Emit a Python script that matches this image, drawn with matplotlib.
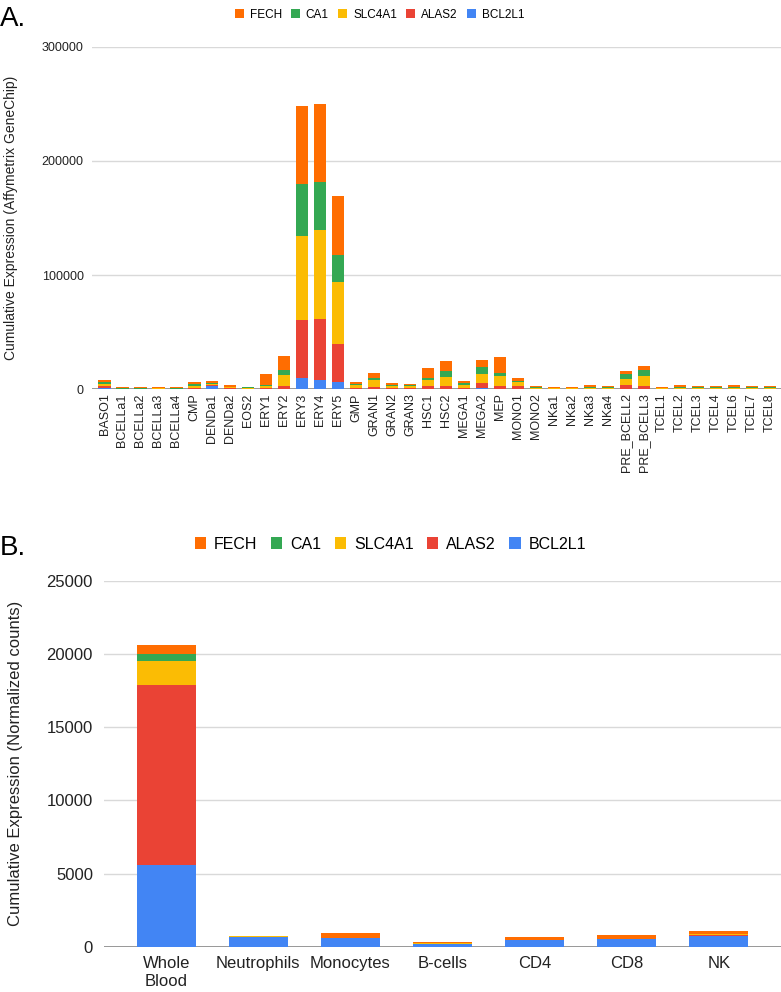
import matplotlib
matplotlib.use("Agg")
import matplotlib.pyplot as plt
import numpy as np
from matplotlib.patches import Patch

plt.rcParams["font.family"] = ["Liberation Sans", "DejaVu Sans"]

# Gene colours (Google Sheets palette)
genes = ["BCL2L1", "ALAS2", "SLC4A1", "CA1", "FECH"]
colors = {
    "BCL2L1": "#4285F4",
    "ALAS2": "#EA4335",
    "SLC4A1": "#FBBC04",
    "CA1": "#34A853",
    "FECH": "#FF6D01",
}

# Panel A: Affymetrix GeneChip, cumulative expression per cell population
cells_a = [
    "BASO1", "BCELLa1", "BCELLa2", "BCELLa3", "BCELLa4", "CMP", "DENDa1",
    "DENDa2", "EOS2", "ERY1", "ERY2", "ERY3", "ERY4", "ERY5", "GMP", "GRAN1",
    "GRAN2", "GRAN3", "HSC1", "HSC2", "MEGA1", "MEGA2", "MEP", "MONO1",
    "MONO2", "NKa1", "NKa2", "NKa3", "NKa4", "PRE_BCELL2", "PRE_BCELL3",
    "TCEL1", "TCEL2", "TCEL3", "TCEL4", "TCEL6", "TCEL7", "TCEL8",
]
bcl2l1_a = [1500, 200, 200, 200, 200, 600, 2500, 300, 100, 300, 600, 9900,
            7900, 6100, 300, 300, 200, 200, 500, 500, 300, 1100, 300, 300,
            200, 100, 100, 200, 200, 300, 300, 100, 200, 200, 200, 200, 200, 200]
alas2_a = [1300, 200, 200, 300, 200, 900, 800, 500, 200, 1200, 2300, 50500,
           53600, 33300, 400, 1700, 800, 700, 2300, 2600, 1000, 4400, 2600,
           2300, 300, 200, 300, 400, 300, 3500, 2900, 300, 400, 300, 300,
           400, 300, 300]
slc4a1_a = [2000, 200, 200, 200, 200, 1700, 1200, 900, 800, 1500, 9400,
            73600, 78200, 54200, 2900, 5800, 1700, 1800, 5200, 7900, 2000,
            8100, 8800, 3500, 800, 400, 500, 900, 900, 5500, 8700, 500, 900,
            800, 800, 900, 800, 800]
ca1_a = [1500, 200, 200, 200, 200, 1300, 1300, 700, 600, 1000, 4300, 45600,
         41800, 23700, 1200, 2000, 800, 800, 2000, 4700, 2000, 5700, 2300,
         1500, 700, 400, 400, 800, 800, 4400, 4700, 500, 800, 700, 700, 800,
         700, 700]
fech_a = [1700, 800, 800, 1000, 900, 1800, 1500, 1100, 300, 9400, 12800,
          68000, 68500, 52100, 1900, 4200, 1800, 1200, 9000, 9100, 2000,
          6100, 14500, 2000, 900, 500, 800, 1200, 700, 2600, 4000, 600,
          1200, 900, 900, 1200, 900, 900]

# Panel B: RNA-seq, normalized counts
cells_b = ["Whole\nBlood", "Neutrophils", "Monocytes", "B-cells", "CD4", "CD8", "NK"]
bcl2l1_b = [5600, 685, 570, 205, 435, 505, 760]
alas2_b = [12300, 10, 15, 10, 15, 15, 20]
slc4a1_b = [1600, 10, 15, 10, 15, 15, 100]
ca1_b = [500, 45, 15, 10, 15, 15, 20]
fech_b = [600, 10, 320, 105, 185, 250, 150]

data_a = dict(zip(genes, [bcl2l1_a, alas2_a, slc4a1_a, ca1_a, fech_a]))
data_b = dict(zip(genes, [bcl2l1_b, alas2_b, slc4a1_b, ca1_b, fech_b]))

fig = plt.figure(figsize=(7.81, 9.92), dpi=100)
ax_a = fig.add_axes([0.1177, 0.6076, 0.8828, 0.3454])
ax_b = fig.add_axes([0.1332, 0.04567, 0.8668, 0.3687])


def stacked(ax, cats, data, width):
    x = np.arange(len(cats))
    bottom = np.zeros(len(cats))
    for g in genes:
        vals = np.array(data[g], dtype=float)
        ax.bar(x, vals, width, bottom=bottom, color=colors[g], zorder=3,
               linewidth=0)
        bottom += vals
    return x


# Panel A
x_a = stacked(ax_a, cells_a, data_a, 0.68)
ax_a.set_xlim(-0.7, 37.65)
ax_a.set_ylim(0, 300000)
ax_a.set_yticks([0, 100000, 200000, 300000])
ax_a.set_xticks(x_a)
ax_a.set_xticklabels(cells_a, rotation=90, fontsize=9, color="#222222")
ax_a.tick_params(axis="y", labelsize=9, labelcolor="#222222", length=0, pad=6)
ax_a.tick_params(axis="x", length=0, pad=3)
ax_a.set_ylabel("Cumulative Expression (Affymetrix GeneChip)", fontsize=10,
                color="#222222")

# Panel B
x_b = stacked(ax_b, cells_b, data_b, 0.644)
ax_b.set_xlim(-0.676, 6.676)
ax_b.set_ylim(0, 25000)
ax_b.set_yticks(range(0, 25001, 5000))
ax_b.set_xticks(x_b)
ax_b.set_xticklabels(cells_b, fontsize=12, color="#222222", linespacing=1.2)
ax_b.tick_params(axis="y", labelsize=12, labelcolor="#222222", length=0, pad=8)
ax_b.tick_params(axis="x", length=0, pad=7)
ax_b.set_ylabel("Cumulative Expression (Normalized counts)", fontsize=12,
                color="#222222")

for ax in (ax_a, ax_b):
    for s in ax.spines.values():
        s.set_visible(False)
    ax.yaxis.grid(True, color="#d9d9d9", linewidth=1, zorder=0)
    ax.set_axisbelow(True)
    ax.axhline(0, color="#888888", linewidth=1.2, zorder=2)

ax_a.yaxis.set_label_coords(-0.107, 0.5)
ax_b.yaxis.set_label_coords(-0.12, 0.5)

# Legends (FECH first, as in the source chart)
handles = [Patch(facecolor=colors[g], edgecolor="none") for g in genes[::-1]]
labels = genes[::-1]
fig.legend(handles, labels, loc="center", bbox_to_anchor=(0.486, 0.985),
           ncol=5, frameon=False, fontsize=8.5, handlelength=0.75,
           handleheight=0.75, handletextpad=0.5, columnspacing=0.8)
fig.legend(handles, labels, loc="center", bbox_to_anchor=(0.5, 0.4516),
           ncol=5, frameon=False, fontsize=11.5, handlelength=0.7,
           handleheight=0.7, handletextpad=0.5, columnspacing=0.85)

fig.text(0.0, 0.994, "A.", fontsize=20, ha="left", va="top")
fig.text(0.0, 0.461, "B.", fontsize=20, ha="left", va="top")

fig.savefig("out.png", dpi=100)
